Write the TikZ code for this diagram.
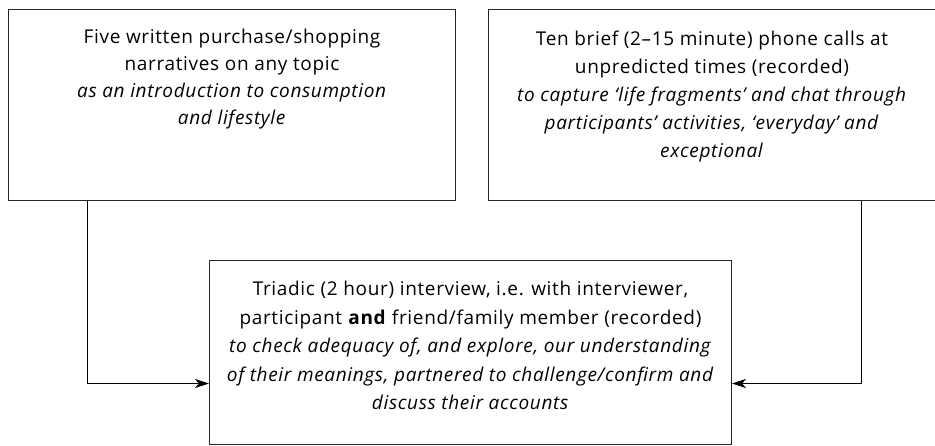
\documentclass[tikz,border=0pt]{standalone}
\usepackage{fontspec}
\setmainfont[LetterSpace=3.5]{Open Sans}
\usepackage{tikz}
\usetikzlibrary{arrows.meta, positioning}
\tikzset{
  stage/.style={rectangle, draw=black!85, line width=1pt, inner sep=0pt, font=\fontsize{19}{26.7}\selectfont},
  arrow/.style={line width=0.8pt, -{Stealth[length=14pt, width=9pt, inset=4pt]}}
}
% fixed-size box with text hanging from the top
\newcommand{\stagetext}[4]{\parbox[c][#2][t]{#1}{\centering\vspace*{#3}#4}}

\begin{document}
\begin{tikzpicture}[x=1pt, y=1pt]
\useasboundingbox (0,0) rectangle (935,-446);
\node[stage, anchor=north west] (narr) at (8,-9)
  {\stagetext{447pt}{191pt}{20pt}{Five written purchase/shopping\\narratives on any topic\\
  \textit{as an introduction to consumption}\\\textit{and lifestyle}}};
\node[stage, right=32pt of narr, font=\fontsize{19}{28}\selectfont] (calls)
  {\stagetext{447pt}{191pt}{21pt}{Ten brief (2--15 minute) phone calls at\\unpredicted times (recorded)\\
  \textit{to capture `life fragments' and chat through}\\\textit{participants' activities, `everyday' and}\\\textit{exceptional}}};
\node[stage, anchor=north west, font=\fontsize{19}{28.5}\selectfont] (intv) at (209,-260)
  {\stagetext{522pt}{184pt}{21pt}{Triadic (2 hour) interview, i.e. with interviewer,\\participant \textbf{and} friend/family member (recorded)\\
  \textit{to check adequacy of, and explore, our understanding}\\\textit{of their meanings, partnered to challenge/confirm and}\\\textit{discuss their accounts}}};

\draw[arrow] ([xshift=79pt]narr.south west) |- ([yshift=-31pt]intv.west);
\draw[arrow] ([xshift=-75pt]calls.south east) |- ([yshift=-31pt]intv.east);
\end{tikzpicture}
\end{document}
